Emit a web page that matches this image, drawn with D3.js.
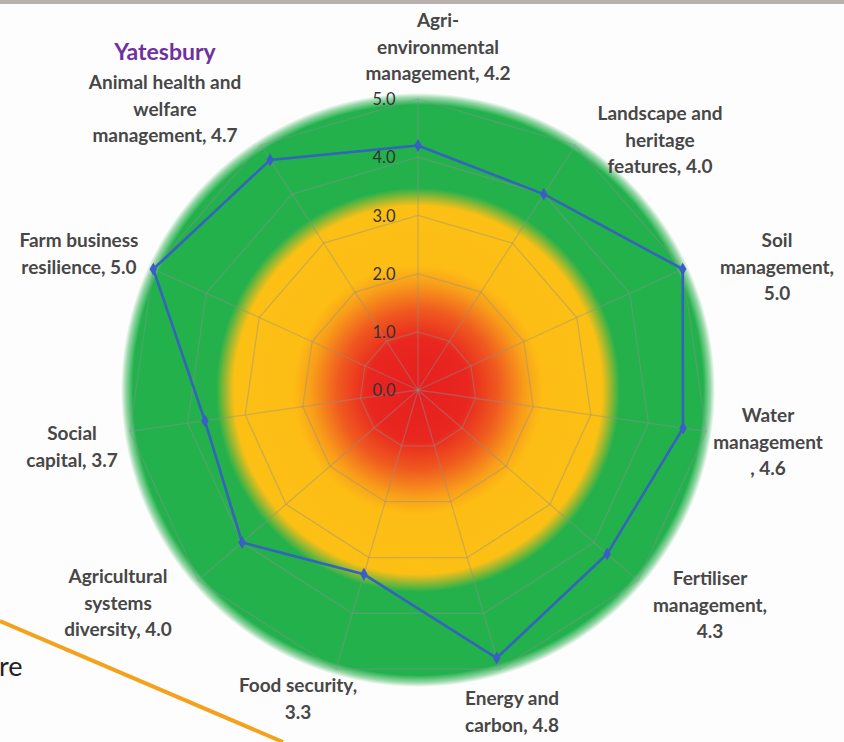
<!DOCTYPE html>
<html>
<head>
<meta charset="utf-8">
<script src="https://cdn.jsdelivr.net/npm/d3@7"></script>
<style>
  html, body { margin: 0; padding: 0; background: #fdfdfd; }
  svg { display: block; }
  text { font-family: Lato, "Liberation Sans", sans-serif; }
</style>
</head>
<body>
<svg id="chart" width="844" height="742"></svg>
<script>
// Sustainability scores for the farm, one per assessment area (0–5 scale)
const farmName = "Yatesbury";
const categories = [
  ["Agri-", "environmental", "management, 4.2"],
  ["Landscape and", "heritage", "features, 4.0"],
  ["Soil", "management,", "5.0"],
  ["Water", "management", ", 4.6"],
  ["Fertiliser", "management,", "4.3"],
  ["Energy and", "carbon, 4.8"],
  ["Food security,", "3.3"],
  ["Agricultural", "systems", "diversity, 4.0"],
  ["Social", "capital, 3.7"],
  ["Farm business", "resilience, 5.0"],
  ["Animal health and", "welfare", "management, 4.7"]
];
const scores = [4.2, 4.0, 5.0, 4.6, 4.3, 4.8, 3.3, 4.0, 3.7, 5.0, 4.7];
const tickValues = [0, 1, 2, 3, 4, 5];
const tickLabels = ["0.0", "1.0", "2.0", "3.0", "4.0", "5.0"];
// Label anchor points (centre of the first line of each text block)
const labelPos = [
  [438, 20], [660, 113], [777, 240], [768, 415], [710, 578], [512, 698],
  [298, 685], [118, 576], [72, 433], [79, 240], [165, 82]
];

const svg = d3.select("#chart");
const cx = 418, cy = 390;
const n = categories.length;

const r = d3.scaleLinear().domain([0, 5]).range([0, 291]);
const angle = d3.scaleLinear().domain([0, n]).range([0, 2 * Math.PI]);
const pt = (i, v) => [cx + r(v) * Math.sin(angle(i)), cy - r(v) * Math.cos(angle(i))];

const defs = svg.append("defs");

// Red → yellow → green rating zones
const grad = defs.append("radialGradient").attr("id", "zones")
  .attr("cx", 0.5).attr("cy", 0.5).attr("r", 0.5);
[
  [0.00, "#e61f1f"], [0.17, "#e9261f"], [0.27, "#ef5a1f"], [0.36, "#f89e1a"],
  [0.42, "#fdbd14"], [0.62, "#fcc015"], [0.645, "#a6b92e"], [0.68, "#24b14b"],
  [0.96, "#22b14c"], [0.985, "#9ad8aa"], [1.00, "#fdfdfd"]
].forEach(([o, c]) => grad.append("stop").attr("offset", o).attr("stop-color", c));

svg.append("rect").attr("x", 0).attr("y", 0).attr("width", 844).attr("height", 4)
  .attr("fill", "#b8b0ad");

svg.append("circle").attr("cx", cx).attr("cy", cy).attr("r", r(5) + 6)
  .attr("fill", "url(#zones)");

// Grid rings (polygons) and spokes
const ringLine = d3.line();
const grid = svg.append("g").attr("fill", "none").attr("stroke", "#8f8f8f")
  .attr("stroke-opacity", 0.42).attr("stroke-width", 1.3);
tickValues.filter(v => v > 0).forEach(v => {
  const pts = d3.range(n).map(i => pt(i, v));
  grid.append("path").attr("d", ringLine(pts) + "Z");
});
d3.range(n).forEach(i => {
  const [x, y] = pt(i, 5);
  grid.append("line").attr("x1", cx).attr("y1", cy).attr("x2", x).attr("y2", y);
});

// Axis value labels along the top spoke
svg.append("g").selectAll("text").data(tickValues).join("text")
  .attr("x", cx - 34).attr("y", d => cy - r(d) + 2)
  .attr("text-anchor", "middle").attr("dominant-baseline", "middle")
  .attr("font-size", 16.5).attr("fill", "#333")
  .text((d, i) => tickLabels[i]);

// Score polygon
const radar = d3.lineRadial().angle((d, i) => angle(i)).radius(d => r(d))
  .curve(d3.curveLinearClosed);
svg.append("path").datum(scores)
  .attr("transform", `translate(${cx},${cy})`)
  .attr("d", radar).attr("fill", "none")
  .attr("stroke", "#3464bb").attr("stroke-width", 2.6);
svg.append("g").selectAll("path").data(scores).join("path")
  .attr("transform", (d, i) => `translate(${pt(i, d)})`)
  .attr("d", d3.symbol(d3.symbolDiamond, 48))
  .attr("fill", "#3a5ec6");

// Category labels
const lh = 26.5;
const lab = svg.append("g").attr("fill", "#474747").attr("font-size", 19)
  .attr("font-weight", "bold").attr("text-anchor", "middle");
categories.forEach((lines, i) => {
  const [x, y] = labelPos[i];
  const t = lab.append("text").attr("x", x).attr("y", y + 7);
  lines.forEach((s, k) => t.append("tspan").attr("x", x).attr("y", y + 7 + k * lh).text(s));
});

svg.append("text").attr("x", 165).attr("y", 60).attr("text-anchor", "middle")
  .attr("font-size", 23).attr("font-weight", "bold").attr("fill", "#7030a0")
  .text(farmName);

// Page decoration below the chart
svg.append("line").attr("x1", 0).attr("y1", 621).attr("x2", 283).attr("y2", 742)
  .attr("stroke", "#f4a21c").attr("stroke-width", 4);
svg.append("text").attr("x", -1).attr("y", 676).attr("font-size", 27)
  .attr("fill", "#222").text("re");
</script>
</body>
</html>
